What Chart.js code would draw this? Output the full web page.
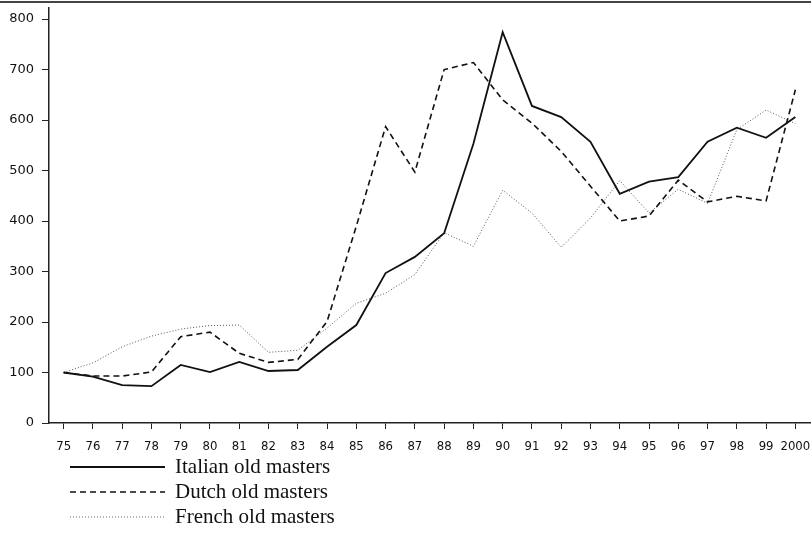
<!DOCTYPE html>
<html>
<head>
<meta charset="utf-8">
<script src="https://cdn.jsdelivr.net/npm/chart.js@4/dist/chart.umd.min.js"></script>
<style>
  body { margin: 0; background: #fff; }
  #wrap { position: relative; width: 811px; height: 537px; }
  #topline { position: absolute; left: 0; top: 1px; width: 811px; height: 2px; background: #444; }
  #chartBox { position: absolute; left: 0; top: 0; width: 811px; height: 460px; }
  #legend { position: absolute; left: 70px; top: 454px; font-family: "Liberation Serif", "DejaVu Serif", serif; font-size: 21px; color: #111; }
  .item { height: 25px; display: flex; align-items: center; }
  .item svg { width: 95px; height: 4px; margin-right: 10px; }
</style>
</head>
<body>
<div id="wrap">
  <div id="topline"></div>
  <div id="chartBox"><canvas id="myLines"></canvas></div>
  <div id="legend"></div>
</div>
<script>
const years = ['75','76','77','78','79','80','81','82','83','84','85','86','87','88','89','90','91','92','93','94','95','96','97','98','99','2000'];
const italian = [100, 92, 75, 73, 115, 101, 121, 103, 105, 151, 194, 297, 329, 376, 553, 774, 628, 606, 557, 454, 478, 487, 557, 585, 565, 606];
const dutch = [100, 93, 93, 101, 171, 180, 138, 120, 126, 201, 390, 587, 497, 700, 714, 640, 594, 538, 469, 400, 410, 481, 438, 449, 440, 660];
const french = [100, 119, 151, 172, 186, 193, 194, 140, 144, 188, 237, 257, 294, 377, 350, 461, 416, 348, 406, 480, 416, 463, 435, 581, 620, 593];
const seriesNames = ['Italian old masters', 'Dutch old masters', 'French old masters'];

const yTicks = [0, 100, 200, 300, 400, 500, 600, 700, 800];

const canvas = document.getElementById('myLines');

new Chart(canvas, {
  type: 'line',
  data: {
    labels: years,
    datasets: [
      { label: seriesNames[0], data: italian, borderColor: '#111', borderWidth: 1.8, pointRadius: 0, tension: 0 },
      { label: seriesNames[1], data: dutch, borderColor: '#111', borderWidth: 1.6, borderDash: [6, 4], pointRadius: 0, tension: 0 },
      { label: seriesNames[2], data: french, borderColor: '#555', borderWidth: 1, borderDash: [1, 2], pointRadius: 0, tension: 0 }
    ]
  },
  options: {
    responsive: true,
    maintainAspectRatio: false,
    animation: false,
    layout: { padding: { top: 8, right: 1, left: 0, bottom: 0 } },
    plugins: { legend: { display: false }, tooltip: { enabled: false } },
    scales: {
      x: {
        offset: true,
        grid: { display: true, drawOnChartArea: false, drawTicks: true, tickLength: 6, offset: false, color: '#222' },
        border: { display: true, color: '#222', width: 1.5 },
        ticks: { color: '#111', padding: 10, maxRotation: 0, autoSkip: false, font: { family: 'DejaVu Sans Condensed', size: 13 } },
        afterFit: (scale) => {
          scale.height = 37;
          scale.paddingLeft = 0;
          scale.paddingRight = 0;
        }
      },
      y: {
        min: 0,
        max: 822,
        grid: { display: true, drawOnChartArea: false, drawTicks: true, tickLength: 7, color: '#222' },
        border: { display: true, color: '#222', width: 1.5 },
        ticks: { color: '#111', padding: 8, font: { family: 'DejaVu Sans', size: 13 } },
        afterBuildTicks: (scale) => { scale.ticks = yTicks.map((v) => ({ value: v })); },
        afterFit: (scale) => {
          scale.width = 49;
          scale.paddingTop = 0;
          scale.paddingBottom = 0;
        }
      }
    }
  }
});

// legend below the chart
const legend = document.getElementById('legend');
const dashes = ['', '6,4', '1,2'];
const colors = ['#111', '#111', '#666'];
const widths = [2, 1.6, 1];
seriesNames.forEach((name, i) => {
  const row = document.createElement('div');
  row.className = 'item';
  row.innerHTML = '<svg viewBox="0 0 95 4"><line x1="0" y1="2" x2="95" y2="2" stroke="' + colors[i] + '" stroke-width="' + widths[i] + '"' +
    (dashes[i] ? ' stroke-dasharray="' + dashes[i] + '"' : '') + '/></svg><span>' + name + '</span>';
  legend.appendChild(row);
});
</script>
</body>
</html>
